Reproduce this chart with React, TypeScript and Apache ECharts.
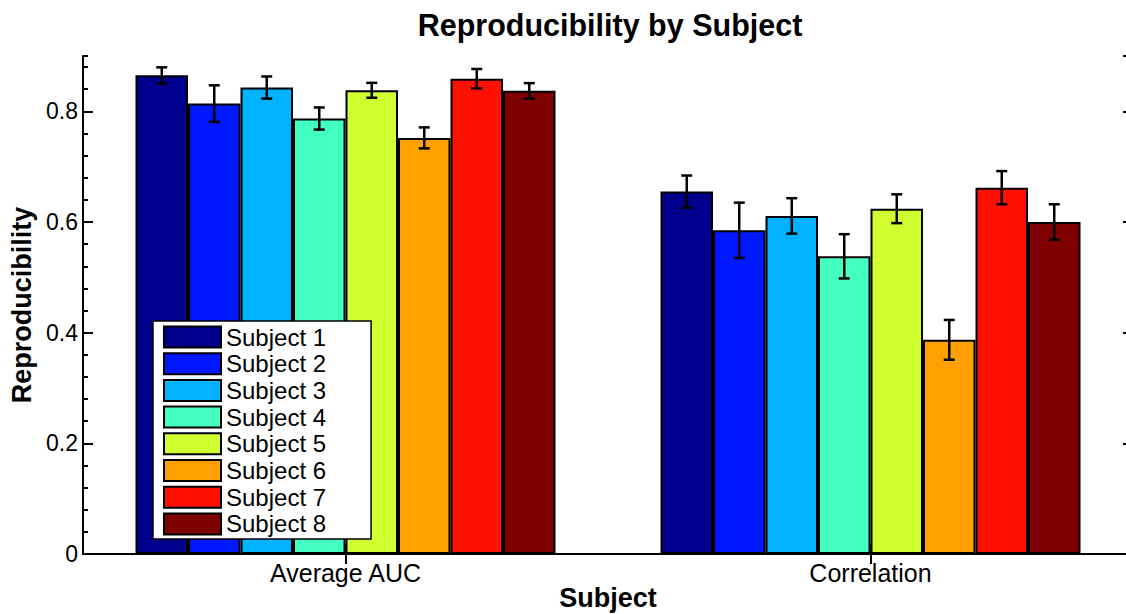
import React, { useEffect, useRef } from "react";
import * as echarts from "echarts";

const categories = ["Average AUC", "Correlation"];
const subjects = ["Subject 1", "Subject 2", "Subject 3", "Subject 4", "Subject 5", "Subject 6", "Subject 7", "Subject 8"];
const colors = ["#00008C", "#0018FF", "#00B2FF", "#44FFC2", "#D0FF30", "#FFA000", "#FF1000", "#7E0000"];
const aucMeans = [0.865, 0.814, 0.843, 0.787, 0.838, 0.752, 0.859, 0.837];
const aucErr = [0.0145, 0.033, 0.02, 0.02, 0.0135, 0.019, 0.0175, 0.014];
const corrMeans = [0.655, 0.585, 0.611, 0.538, 0.624, 0.387, 0.662, 0.6];
const corrErr = [0.029, 0.05, 0.032, 0.04, 0.026, 0.036, 0.03, 0.032];
const yTickValues = ["0", "0.2", "0.4", "0.6", "0.8"];

const FONT = "Liberation Sans, Arial, Helvetica, sans-serif";

export default function App() {
  const ref = useRef<HTMLDivElement>(null);
  useEffect(() => {
    if (!ref.current) return;
    const chart = echarts.init(ref.current, null, { renderer: "svg" });
    const means = [aucMeans, corrMeans];
    const errs = [aucErr, corrErr];
    const N = subjects.length;

    const barSeries = subjects.map((name, i) => ({
      name,
      type: "bar",
      xAxisIndex: 0,
      yAxisIndex: 0,
      barGap: "0%",
      barCategoryGap: "20%",
      data: categories.map((_, c) => means[c][i]),
      itemStyle: { color: colors[i], borderColor: "#000", borderWidth: 2 },
      emphasis: { disabled: true },
    }));

    const errData: number[][] = [];
    categories.forEach((_, c) => {
      for (let i = 0; i < N; i++) {
        errData.push([c, i, means[c][i] - errs[c][i], means[c][i] + errs[c][i]]);
      }
    });

    const lineStyle = { stroke: "#000", lineWidth: 2.5 };
    const errSeries = {
      type: "custom",
      name: "err",
      xAxisIndex: 0,
      yAxisIndex: 0,
      z: 10,
      encode: { x: 0, y: [2, 3] },
      data: errData,
      renderItem: (params: any, api: any) => {
        const cat = api.value(0);
        const s = api.value(1);
        const lo = api.value(2);
        const hi = api.value(3);
        const band = api.size([1, 0])[0];
        const groupW = band * 0.8;
        const bw = groupW / N;
        const cx = api.coord([cat, 0])[0] - groupW / 2 + bw * (s + 0.5);
        const yLo = api.coord([cat, lo])[1];
        const yHi = api.coord([cat, hi])[1];
        const cap = 5.5;
        return {
          type: "group",
          children: [
            { type: "line", shape: { x1: cx, y1: yLo, x2: cx, y2: yHi }, style: lineStyle },
            { type: "line", shape: { x1: cx - cap, y1: yHi, x2: cx + cap, y2: yHi }, style: lineStyle },
            { type: "line", shape: { x1: cx - cap, y1: yLo, x2: cx + cap, y2: yLo }, style: lineStyle },
          ],
        };
      },
    };

    const axisLine = { show: true, lineStyle: { color: "#000", width: 2 } };

    chart.setOption({
      animation: false,
      textStyle: { fontFamily: FONT },
      graphic: [
        {
          type: "text",
          x: 610,
          y: 9,
          style: {
            text: "Reproducibility by Subject",
            font: `bold 30.5px ${FONT}`,
            fill: "#000",
            textAlign: "center",
          },
        },
      ],
      grid: { left: 83, right: 0, top: 56, bottom: 60, containLabel: false, outerBoundsMode: "none" },
      legend: {
        data: subjects,
        orient: "vertical",
        left: 153,
        top: 321,
        itemWidth: 57,
        itemHeight: 21,
        itemGap: 2.7,
        padding: [4, 45, 3, 10],
        backgroundColor: "#fff",
        borderColor: "#000",
        borderWidth: 1.5,
        borderRadius: 0,
        icon: "rect",
        textStyle: { fontSize: 24, lineHeight: 23, color: "#000", fontFamily: FONT },
        selectedMode: false,
      },
      xAxis: [
        {
          type: "category",
          data: categories,
          position: "bottom",
          axisLine,
          axisTick: { show: true, inside: true, alignWithLabel: true, length: 10, lineStyle: { color: "#000", width: 2 } },
          axisLabel: { color: "#000", fontSize: 25, margin: 6, fontFamily: FONT },
          name: "Subject",
          nameLocation: "middle",
          nameGap: 30,
          nameMoveOverlap: false,
          nameTextStyle: { color: "#000", fontSize: 27, fontWeight: "bold", fontFamily: FONT, lineHeight: 27 },
          splitLine: { show: false },
        },
        {
          type: "category",
          data: categories,
          position: "top",
          axisLine,
          axisTick: { show: true, inside: true, alignWithLabel: true, length: 10, lineStyle: { color: "#000", width: 2 } },
          axisLabel: { show: false },
          splitLine: { show: false },
        },
      ],
      yAxis: [
        {
          type: "value",
          position: "left",
          min: 0,
          max: 0.9,
          interval: 0.2,
          axisLine,
          axisTick: { show: true, inside: true, length: 10, lineStyle: { color: "#000", width: 2 } },
          axisLabel: {
            color: "#000",
            fontSize: 23,
            margin: 5,
            fontFamily: FONT,
            showMaxLabel: false,
            formatter: (v: number) => {
              const s = yTickValues.find((t) => Math.abs(parseFloat(t) - v) < 1e-6);
              return s === undefined ? "" : s;
            },
          },
          splitLine: { show: false },
          name: "Reproducibility",
          nameLocation: "middle",
          nameRotate: 90,
          nameGap: 47,
          nameTextStyle: { color: "#000", fontSize: 27, fontWeight: "bold", fontFamily: FONT },
        },
        {
          type: "value",
          position: "left",
          min: 0,
          max: 0.9,
          interval: 0.04,
          axisLine: { show: false },
          axisTick: { show: true, inside: true, length: 5, lineStyle: { color: "#000", width: 2 } },
          axisLabel: { show: false },
          splitLine: { show: false },
        },
        {
          type: "value",
          position: "right",
          min: 0,
          max: 0.9,
          interval: 0.2,
          axisLine,
          axisTick: { show: true, inside: true, length: 10, lineStyle: { color: "#000", width: 2 } },
          axisLabel: { show: false },
          splitLine: { show: false },
        },
        {
          type: "value",
          position: "right",
          min: 0,
          max: 0.9,
          interval: 0.04,
          axisLine: { show: false },
          axisTick: { show: true, inside: true, length: 5, lineStyle: { color: "#000", width: 2 } },
          axisLabel: { show: false },
          splitLine: { show: false },
        },
      ],
      series: [...barSeries, errSeries],
    });
    return () => chart.dispose();
  }, []);
  return (
    <div
      style={{ position: "absolute", left: 0, top: 0, width: 1126, height: 614, overflow: "hidden", background: "#fff" }}
    >
      <div ref={ref} style={{ position: "absolute", left: 0, top: 0, width: 1133, height: 614 }} />
    </div>
  );
}
